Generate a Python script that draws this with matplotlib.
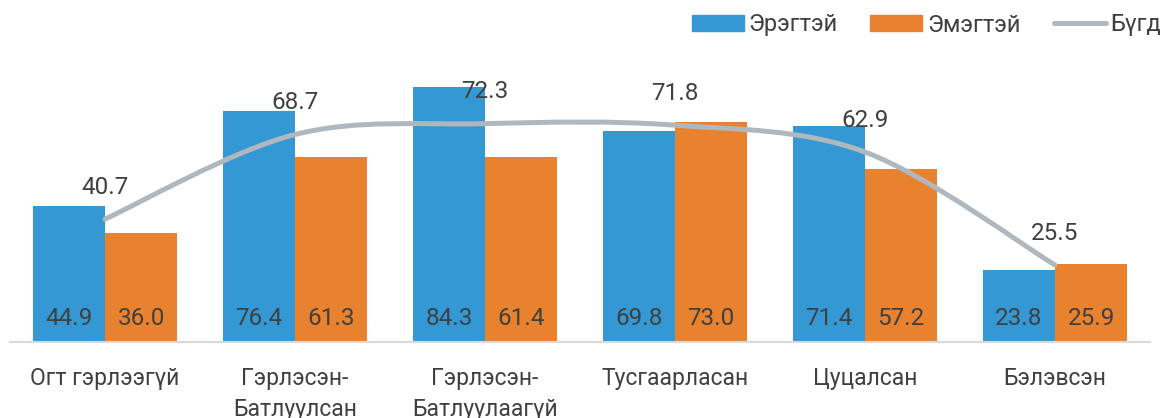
import matplotlib.pyplot as plt
import numpy as np
from matplotlib.path import Path
from matplotlib.patches import PathPatch
from matplotlib.lines import Line2D

plt.rcParams['font.family'] = ['Roboto', 'DejaVu Sans']

categories = ["Огт гэрлээгүй", "Гэрлэсэн-\nБатлуулсан", "Гэрлэсэн-\nБатлуулаагүй",
              "Тусгаарласан", "Цуцалсан", "Бэлэвсэн"]
male = [44.9, 76.4, 84.3, 69.8, 71.4, 23.8]
female = [36.0, 61.3, 61.4, 73.0, 57.2, 25.9]
total = [40.7, 68.7, 72.3, 71.8, 62.9, 25.5]

BLUE = "#3498d4"
ORANGE = "#e8822f"
GREY = "#b0b8bf"
TEXT = "#404040"
W = "normal"

fig = plt.figure(figsize=(11.63, 4.18), dpi=100)
ax = fig.add_axes([10 / 1163, 76 / 418, 1140 / 1163, 302 / 418])

x = np.arange(len(categories))
w = 0.38
ax.bar(x - w / 2, male, w, color=BLUE, label="Эрэгтэй")
ax.bar(x + w / 2, female, w, color=ORANGE, label="Эмэгтэй")

for xi, m, f in zip(x, male, female):
    ax.annotate(f"{m:.1f}", (xi - w / 2, 0), xytext=(0, 17), textcoords="offset points",
                ha="center", va="center", fontsize=17.5, color=TEXT, fontweight=W)
    ax.annotate(f"{f:.1f}", (xi + w / 2, 0), xytext=(0, 17), textcoords="offset points",
                ha="center", va="center", fontsize=17.5, color=TEXT, fontweight=W)

# smoothed line, bezier like spreadsheet "smoothed line"
pts = np.column_stack([x, total]).astype(float)
ext = np.vstack([pts[0], pts, pts[-1]])
verts = [tuple(pts[0])]
codes = [Path.MOVETO]
for i in range(len(pts) - 1):
    p0, p1, p2, p3 = ext[i], ext[i + 1], ext[i + 2], ext[i + 3]
    c1 = p1 + (p2 - p0) / 6
    c2 = p2 - (p3 - p1) / 6
    verts += [tuple(c1), tuple(c2), tuple(p2)]
    codes += [Path.CURVE4] * 3
ax.add_patch(PathPatch(Path(verts, codes), facecolor="none", edgecolor=GREY,
                       lw=3.6, capstyle="round", joinstyle="round", zorder=3))

for xi, t in zip(x, total):
    ax.annotate(f"{t:.1f}", (xi, t), xytext=(0, 23), textcoords="offset points",
                ha="center", va="center", fontsize=17.5, color=TEXT, fontweight=W, zorder=4)

ax.set_xlim(-0.5, len(categories) - 0.5)
ax.set_ylim(0, 100)
ax.set_yticks([])
ax.set_xticks(x)
ax.set_xticklabels(categories, fontsize=16.5, color=TEXT, linespacing=1.45, fontweight=W)
ax.tick_params(axis="x", length=0, pad=18)
for s in ["top", "left", "right"]:
    ax.spines[s].set_visible(False)
ax.spines["bottom"].set_color("#d9d9d9")
ax.spines["bottom"].set_linewidth(1.5)

handles = [plt.Rectangle((0, 0), 1, 1, color=BLUE), plt.Rectangle((0, 0), 1, 1, color=ORANGE),
           Line2D([], [], color=GREY, lw=3.6, solid_capstyle="round")]
fig.legend(handles, ["Эрэгтэй", "Эмэгтэй", "Бүгд"], loc="center right",
           bbox_to_anchor=(1161 / 1163, 1 - 25 / 418), ncol=3, frameon=False,
           prop={"size": 17, "weight": W}, labelcolor=TEXT, handlelength=2.2,
           handleheight=0.65, handletextpad=0.2, columnspacing=1.4,
           borderaxespad=0, borderpad=0)

fig.savefig("out.png", dpi=100)
